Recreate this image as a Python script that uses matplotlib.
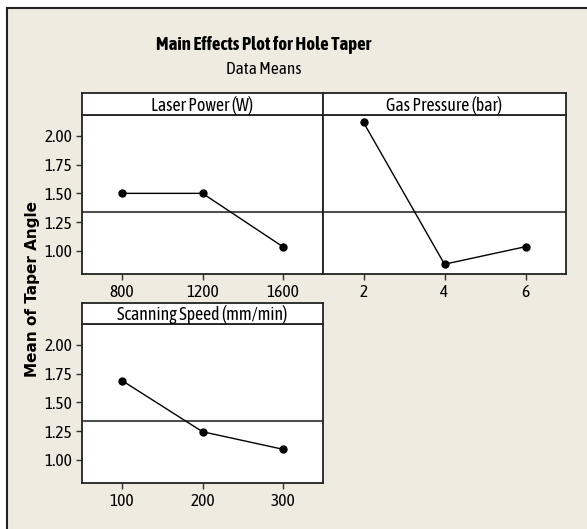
import matplotlib
matplotlib.use("Agg")
import matplotlib.pyplot as plt
from matplotlib import font_manager
from matplotlib.font_manager import FontProperties

def pick(cands, weight=400):
    for name in cands:
        best = None
        for f in font_manager.fontManager.ttflist:
            if f.name == name and f.style == 'normal':
                if best is None or abs(f.weight - weight) < abs(best.weight - weight):
                    best = f
        if best is not None and abs(best.weight - weight) <= 100:
            return best.fname
    return None

reg_file = pick(['Asap Condensed', 'Cabin Condensed', 'DejaVu Sans Condensed'], 400)
bold_file = pick(['Asap Condensed', 'Cabin Condensed'], 700)

def fp(size, bold=False):
    f = bold_file if bold else reg_file
    if f:
        return FontProperties(fname=f, size=size)
    return FontProperties(family='DejaVu Sans', size=size, weight='bold' if bold else 'normal')

# Data
laser_levels = [800, 1200, 1600]
laser_means = [1.50, 1.50, 1.037]
gas_levels = [2, 4, 6]
gas_means = [2.116, 0.885, 1.037]
speed_levels = [100, 200, 300]
speed_means = [1.688, 1.245, 1.093]
grand_mean = 1.342
yticks = [1.00, 1.25, 1.50, 1.75, 2.00]

W, H = 587, 529
bg = '#EFEBE1'
fig = plt.figure(figsize=(W/100, H/100), dpi=100, facecolor='white')

bgax = fig.add_axes([7/W, 0, 1 - 7/W, 1 - 8/H])
bgax.set_facecolor(bg)
bgax.set_xticks([]); bgax.set_yticks([])
for s in ['right', 'bottom']:
    bgax.spines[s].set_visible(False)
for s in ['left', 'top']:
    bgax.spines[s].set_linewidth(1.5)
    bgax.spines[s].set_color('#222222')

def box(x0, x1, y0, y1):
    return [x0/W, 1 - y1/H, (x1 - x0)/W, (y1 - y0)/H]

panels = [
    (laser_levels, laser_means, 'Laser Power (W)', (82, 323, 115, 274, 93), (600, 1800), True),
    (gas_levels, gas_means, 'Gas Pressure (bar)', (323, 566, 115, 274, 93), (1, 7), False),
    (speed_levels, speed_means, 'Scanning Speed (mm/min)', (82, 323, 324, 483, 303), (50, 350), True),
]

tick_fp = fp(12.5)
for lev, means, title, (x0, x1, y0, y1, ys), xl, showy in panels:
    ax = fig.add_axes(box(x0, x1, y0, y1))
    ax.set_facecolor('white')
    ax.axhline(grand_mean, color='#505050', lw=1.5, zorder=1)
    ax.plot(lev, means, color='black', lw=1.0, marker='o', ms=5, zorder=3)
    ax.set_xlim(*xl)
    ax.set_ylim(0.80, 2.18)
    ax.set_xticks(lev)
    ax.set_xticklabels([str(v) for v in lev], fontproperties=tick_fp)
    if showy:
        ax.set_yticks(yticks)
        ax.set_yticklabels(['%.2f' % v for v in yticks], fontproperties=tick_fp)
    else:
        ax.set_yticks([])
    ax.tick_params(direction='out', length=4, width=1, color='#333333', pad=3)
    for s in ax.spines.values():
        s.set_linewidth(1.3)
        s.set_color('#222222')
    sax = fig.add_axes(box(x0, x1, ys, y0))
    sax.set_facecolor('white')
    sax.set_xticks([]); sax.set_yticks([])
    for s in sax.spines.values():
        s.set_linewidth(1.3)
        s.set_color('#222222')
    sax.text(0.5, 0.45, title, ha='center', va='center', fontproperties=fp(12.8),
             transform=sax.transAxes)

fig.text(264/W, 1 - 45/H, 'Main Effects Plot for Hole Taper', ha='center', va='center',
         fontproperties=fp(13.5, bold=True))
fig.text(264/W, 1 - 70/H, 'Data Means', ha='center', va='center', fontproperties=fp(12.5))
fig.text(33/W, 1 - 289/H, 'Mean of Taper Angle', ha='center', va='center', rotation=90,
         fontfamily='DejaVu Sans', fontweight='bold', fontsize=11)

fig.savefig('out.png', dpi=100, facecolor='white')
